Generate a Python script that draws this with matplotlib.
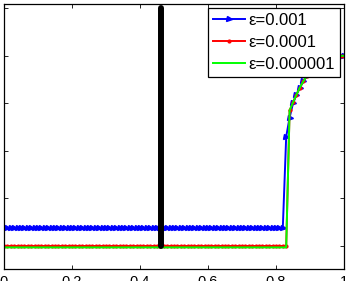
import matplotlib
matplotlib.use("Agg")
import matplotlib.pyplot as plt

plt.rcParams['font.family'] = ['Liberation Sans', 'DejaVu Sans']

# x grid (step 0.01)
x_grid = [i / 100 for i in range(101)]

# upper branch values for x = 0.84 ... 1.00
upper = [2.85, 3.02, 3.18, 3.33, 3.46, 3.57, 3.66, 3.74, 3.80, 3.86,
         3.90, 3.93, 3.96, 3.98, 3.99, 4.00, 4.00]

blue_y = [0.38] * 83 + [2.30] + [2.70] + [3.00] + upper[2:]
red_y = [0.0] * 84 + upper
green_y = [-0.03] * 84 + upper

labels = ['\u03b5=0.001', '\u03b5=0.0001', '\u03b5=0.000001']

black_x = [0.462, 0.462]
black_y = [0.0, 5.0]

x_ticks = [0, 0.2, 0.4, 0.6, 0.8, 1]
x_tick_labels = ['0', '0.2', '0.4', '0.6', '0.8', '1']
y_ticks = [0, 1, 2, 3, 4, 5]

fig = plt.figure(figsize=(3.48, 2.81), dpi=100)
W, H = 348, 281
ax = fig.add_axes([4 / W, 1 - 269 / H, 340 / W, 265 / H])

ax.plot(x_grid, blue_y, color=(0, 0, 1), lw=1.4, marker='>', ms=3.6,
        mec=(0, 0, 1), mfc=(0, 0, 1), label=labels[0])
ax.plot(x_grid, red_y, color=(1, 0, 0), lw=1.4, marker='.', ms=4,
        mec=(1, 0, 0), mfc=(1, 0, 0), label=labels[1])
ax.plot(x_grid, green_y, color=(0, 1, 0), lw=1.4, label=labels[2])
ax.plot(black_x, black_y, color='black', lw=4.3, solid_capstyle='round')

ax.set_xlim(0, 1)
ax.set_ylim(-0.484, 5.09)
ax.set_xticks(x_ticks)
ax.set_xticklabels(x_tick_labels)
ax.set_yticks(y_ticks)
ax.tick_params(direction='in', length=3, width=0.6, top=True, right=True,
               labelsize=10.5, pad=4)
for s in ax.spines.values():
    s.set_linewidth(0.9)

leg = ax.legend(loc='upper right', fontsize=12, frameon=True,
                fancybox=False, framealpha=1, edgecolor='black',
                handlelength=1.9, handletextpad=0.2, labelspacing=0.4,
                borderpad=0.3, borderaxespad=0.25)
leg.get_frame().set_linewidth(0.9)

fig.savefig('out.png', dpi=100)
